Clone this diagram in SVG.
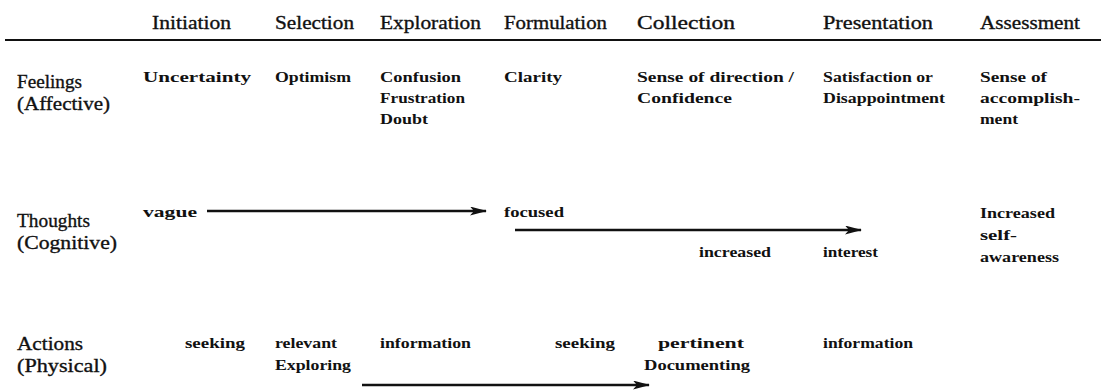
<svg xmlns="http://www.w3.org/2000/svg" width="1101" height="390" viewBox="0 0 1101 390">
  <style>
    text { font-family: "Liberation Serif", "Times New Roman", serif; fill: #111; }
    .hd { font-size: 19px; stroke: #111; stroke-width: 0.35; }
    .row { font-size: 19px; stroke: #111; stroke-width: 0.35; }
    .cell { font-size: 15px; font-weight: bold; }
    .rule { stroke: #111; stroke-width: 2.2; }
    .flow { stroke: #111; stroke-width: 2.5; fill: none; }
  </style>
  <defs>
    <marker id="head" viewBox="0 0 17 9" refX="16" refY="4.5" markerWidth="17" markerHeight="9" markerUnits="userSpaceOnUse" orient="auto">
      <path d="M0,0 L17,4.5 L0,9 L4,4.5 z" fill="#111"/>
    </marker>
  </defs>
  <rect width="1101" height="390" fill="#fff"/>

  <!-- stage headings -->
  <g id="stages">
    <text class="hd" x="152" y="29" textLength="79" lengthAdjust="spacingAndGlyphs">Initiation</text>
    <text class="hd" x="275" y="29" textLength="79" lengthAdjust="spacingAndGlyphs">Selection</text>
    <text class="hd" x="380" y="29" textLength="101" lengthAdjust="spacingAndGlyphs">Exploration</text>
    <text class="hd" x="504" y="29" textLength="103" lengthAdjust="spacingAndGlyphs">Formulation</text>
    <text class="hd" x="637" y="29" textLength="98" lengthAdjust="spacingAndGlyphs">Collection</text>
    <text class="hd" x="823" y="29" textLength="110" lengthAdjust="spacingAndGlyphs">Presentation</text>
    <text class="hd" x="980" y="29" textLength="100" lengthAdjust="spacingAndGlyphs">Assessment</text>
    <line class="rule" x1="5" y1="40" x2="1101" y2="40"/>
  </g>

  <!-- row labels -->
  <g id="row-feelings">
    <text class="row" x="17" y="88" textLength="65" lengthAdjust="spacingAndGlyphs">Feelings</text>
    <text class="row" x="17" y="110" textLength="93" lengthAdjust="spacingAndGlyphs">(Affective)</text>
  </g>
  <g id="row-thoughts">
    <text class="row" x="17" y="227" textLength="73" lengthAdjust="spacingAndGlyphs">Thoughts</text>
    <text class="row" x="17" y="249" textLength="100" lengthAdjust="spacingAndGlyphs">(Cognitive)</text>
  </g>
  <g id="row-actions">
    <text class="row" x="17" y="350" textLength="66" lengthAdjust="spacingAndGlyphs">Actions</text>
    <text class="row" x="17" y="372" textLength="90" lengthAdjust="spacingAndGlyphs">(Physical)</text>
  </g>

  <!-- feelings -->
  <g id="feel-initiation"><text class="cell" x="143" y="82" textLength="108" lengthAdjust="spacingAndGlyphs">Uncertainty</text></g>
  <g id="feel-selection"><text class="cell" x="275" y="82" textLength="76" lengthAdjust="spacingAndGlyphs">Optimism</text></g>
  <g id="feel-exploration">
    <text class="cell" x="380" y="82" textLength="81" lengthAdjust="spacingAndGlyphs">Confusion</text>
    <text class="cell" x="380" y="103" textLength="85" lengthAdjust="spacingAndGlyphs">Frustration</text>
    <text class="cell" x="380" y="124" textLength="48" lengthAdjust="spacingAndGlyphs">Doubt</text>
  </g>
  <g id="feel-formulation"><text class="cell" x="504" y="82" textLength="58" lengthAdjust="spacingAndGlyphs">Clarity</text></g>
  <g id="feel-collection">
    <text class="cell" x="637" y="82" textLength="157" lengthAdjust="spacingAndGlyphs">Sense of direction /</text>
    <text class="cell" x="637" y="103" textLength="95" lengthAdjust="spacingAndGlyphs">Confidence</text>
  </g>
  <g id="feel-presentation">
    <text class="cell" x="823" y="82" textLength="110" lengthAdjust="spacingAndGlyphs">Satisfaction or</text>
    <text class="cell" x="823" y="103" textLength="122" lengthAdjust="spacingAndGlyphs">Disappointment</text>
  </g>
  <g id="feel-assessment">
    <text class="cell" x="980" y="82" textLength="67" lengthAdjust="spacingAndGlyphs">Sense of</text>
    <text class="cell" x="980" y="103" textLength="100" lengthAdjust="spacingAndGlyphs">accomplish-</text>
    <text class="cell" x="980" y="124" textLength="38" lengthAdjust="spacingAndGlyphs">ment</text>
  </g>

  <!-- thoughts -->
  <g id="think-vague"><text class="cell" x="143" y="217" textLength="54" lengthAdjust="spacingAndGlyphs">vague</text></g>
  <g id="think-focused"><text class="cell" x="504" y="217" textLength="60" lengthAdjust="spacingAndGlyphs">focused</text></g>
  <g id="think-increased"><text class="cell" x="699" y="257" textLength="72" lengthAdjust="spacingAndGlyphs">increased</text></g>
  <g id="think-interest"><text class="cell" x="823" y="257" textLength="55" lengthAdjust="spacingAndGlyphs">interest</text></g>
  <g id="think-assessment">
    <text class="cell" x="980" y="218" textLength="75" lengthAdjust="spacingAndGlyphs">Increased</text>
    <text class="cell" x="980" y="240" textLength="37" lengthAdjust="spacingAndGlyphs">self-</text>
    <text class="cell" x="980" y="262" textLength="79" lengthAdjust="spacingAndGlyphs">awareness</text>
  </g>

  <!-- actions -->
  <g id="act-seeking-1"><text class="cell" x="185" y="348" textLength="60" lengthAdjust="spacingAndGlyphs">seeking</text></g>
  <g id="act-relevant">
    <text class="cell" x="275" y="348" textLength="62" lengthAdjust="spacingAndGlyphs">relevant</text>
    <text class="cell" x="275" y="370" textLength="76" lengthAdjust="spacingAndGlyphs">Exploring</text>
  </g>
  <g id="act-information-1"><text class="cell" x="380" y="348" textLength="91" lengthAdjust="spacingAndGlyphs">information</text></g>
  <g id="act-seeking-2"><text class="cell" x="555" y="348" textLength="60" lengthAdjust="spacingAndGlyphs">seeking</text></g>
  <g id="act-pertinent">
    <text class="cell" x="658" y="348" textLength="86" lengthAdjust="spacingAndGlyphs">pertinent</text>
    <text class="cell" x="644" y="370" textLength="106" lengthAdjust="spacingAndGlyphs">Documenting</text>
  </g>
  <g id="act-information-2"><text class="cell" x="823" y="348" textLength="90" lengthAdjust="spacingAndGlyphs">information</text></g>

  <!-- flow arrows -->
  <g id="connectors">
    <line class="flow" x1="207" y1="211" x2="486" y2="211" marker-end="url(#head)"/>
    <line class="flow" x1="515" y1="230" x2="861" y2="230" marker-end="url(#head)"/>
    <line class="flow" x1="362" y1="385" x2="649" y2="385" marker-end="url(#head)"/>
  </g>
</svg>
